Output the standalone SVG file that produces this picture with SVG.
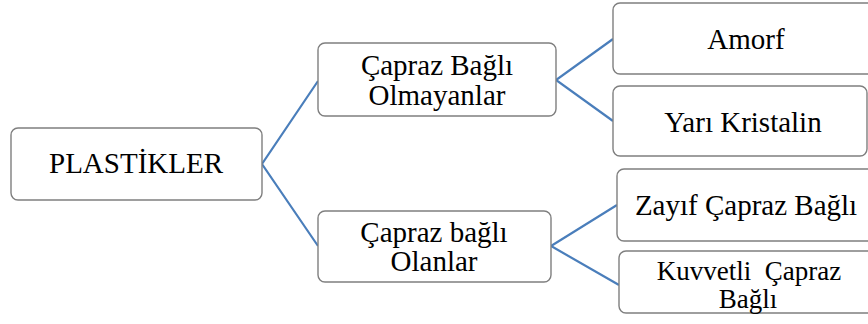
<svg xmlns="http://www.w3.org/2000/svg" width="868" height="324" viewBox="0 0 868 324" font-family="'Liberation Serif', 'DejaVu Serif', serif">
  <style>
    .box { fill: #ffffff; stroke: #7f7f7f; stroke-width: 1.4; }
    .lbl { font-family: 'Liberation Serif', 'DejaVu Serif', serif; font-size: 29px; fill: #000000; text-anchor: middle; }
    .tight { font-size: 27px; }
    .conn { fill: none; stroke: #4a7ebb; stroke-width: 2.2; stroke-linejoin: miter; }
  </style>
  <rect width="868" height="324" fill="#ffffff"/>

  <!-- connectors -->
  <g id="connectors">
    <polyline class="conn" points="318,81 262,164 318,246"/>
    <polyline class="conn" points="613,39 556,80 613,121"/>
    <polyline class="conn" points="617,205 551,246 619,285"/>
  </g>

  <!-- root -->
  <g id="plastikler">
    <rect class="box" x="11" y="128" width="251" height="72" rx="7"/>
    <text class="lbl" x="136" y="173">PLASTİKLER</text>
  </g>

  <!-- second level -->
  <g id="capraz-bagli-olmayanlar">
    <rect class="box" x="318" y="43" width="238" height="73" rx="7"/>
    <text class="lbl" x="437" y="75">Çapraz Bağlı</text>
    <text class="lbl" x="437" y="105">Olmayanlar</text>
  </g>
  <g id="capraz-bagli-olanlar">
    <rect class="box" x="318" y="211" width="233" height="71" rx="7"/>
    <text class="lbl" x="434" y="242">Çapraz bağlı</text>
    <text class="lbl" x="434" y="271">Olanlar</text>
  </g>

  <!-- leaves -->
  <g id="amorf">
    <rect class="box" x="613" y="3" width="262" height="71" rx="7"/>
    <text class="lbl" x="746" y="49">Amorf</text>
  </g>
  <g id="yari-kristalin">
    <rect class="box" x="613" y="86" width="254" height="70" rx="7"/>
    <text class="lbl" x="743" y="132">Yarı Kristalin</text>
  </g>
  <g id="zayif-capraz-bagli">
    <rect class="box" x="617" y="169" width="262" height="72" rx="7"/>
    <text class="lbl" x="746" y="215">Zayıf Çapraz Bağlı</text>
  </g>
  <g id="kuvvetli-capraz-bagli">
    <rect class="box" x="619" y="251" width="262" height="62" rx="7"/>
    <text class="lbl tight" x="749" y="280" xml:space="preserve">Kuvvetli  Çapraz</text>
    <text class="lbl tight" x="748" y="308">Bağlı</text>
  </g>
</svg>
